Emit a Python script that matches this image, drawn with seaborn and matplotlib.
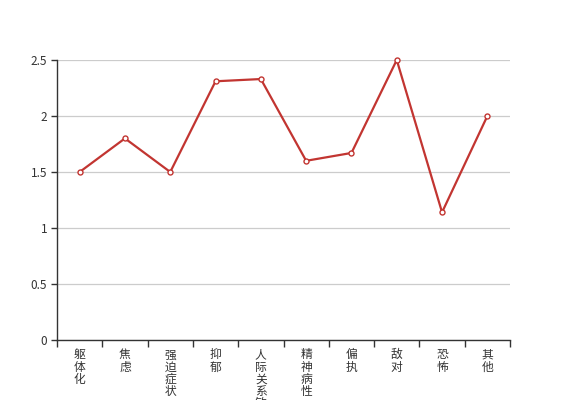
import pandas as pd
import numpy as np
import matplotlib.pyplot as plt
import seaborn as sns

# Chart data
categories = ['躯体化', '焦虑', '强迫症状', '抑郁', '人际关系敏感',
              '精神病性', '偏执', '敌对', '恐怖', '其他']
scores = [1.5, 1.8, 1.5, 2.31, 2.33, 1.6, 1.67, 2.5, 1.14, 2.0]
y_ticks = [0, 0.5, 1, 1.5, 2, 2.5]
y_tick_labels = ['0', '0.5', '1', '1.5', '2', '2.5']

df = pd.DataFrame({'pos': np.arange(len(categories)), 'score': scores})

sns.set_style('white')
plt.rcParams['font.family'] = ['Noto Sans CJK SC', 'DejaVu Sans']

fig = plt.figure(figsize=(5.67, 4), dpi=100)
ax = fig.add_axes([57 / 567, 60 / 400, 453 / 567, 280 / 400])

sns.lineplot(data=df, x='pos', y='score', ax=ax, color='#c23531', linewidth=1.6,
             marker='o', markersize=3.6, markerfacecolor='white',
             markeredgecolor='#c23531', markeredgewidth=1, clip_on=False)

ax.set_xlim(-0.5, len(categories) - 0.5)
ax.set_ylim(0, 2.5)
ax.set_yticks(y_ticks)
ax.set_yticklabels(y_tick_labels)
ax.yaxis.grid(True, color='#cccccc', linewidth=0.9)
ax.set_axisbelow(True)

# vertical stacked labels
ax.set_xticks(np.arange(len(categories)))
ax.set_xticklabels(['\n'.join(c) for c in categories], va='top',
                   linespacing=0.92)
ax.set_xticks(np.arange(len(categories) + 1) - 0.5, minor=True)
ax.tick_params(axis='x', which='major', length=0, pad=6, labelsize=8.5,
               labelcolor='#333333')
ax.tick_params(axis='x', which='minor', length=5, width=1, color='#333333',
               direction='out', bottom=True)
ax.tick_params(axis='y', length=4, width=1, color='#333333', direction='out',
               left=True, labelsize=8.5, labelcolor='#333333', pad=3)

for s in ['top', 'right']:
    ax.spines[s].set_visible(False)
for s in ['left', 'bottom']:
    ax.spines[s].set_color('#333333')
    ax.spines[s].set_linewidth(1)

ax.set_xlabel('')
ax.set_ylabel('')

fig.savefig('out.png', dpi=100)
